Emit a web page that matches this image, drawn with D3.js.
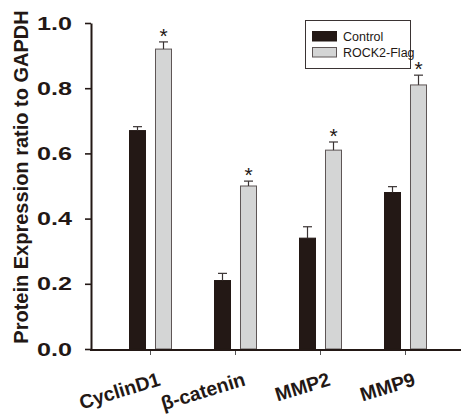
<!DOCTYPE html>
<html>
<head>
<meta charset="utf-8">
<script src="https://cdn.jsdelivr.net/npm/d3@7"></script>
<style>
  body { margin: 0; background: #fff; }
  svg { display: block; font-family: "Liberation Sans", Arial, sans-serif; }
</style>
</head>
<body>
<div id="chart"></div>
<script>
const width = 461;
const height = 415;

// data
const categories = ["CyclinD1", "β-catenin", "MMP2", "MMP9"];
const series = ["Control", "ROCK2-Flag"];
const controlValues = [0.67, 0.21, 0.34, 0.48];
const controlErrors = [0.012, 0.022, 0.035, 0.018];
const rockValues = [0.92, 0.50, 0.61, 0.81];
const rockErrors = [0.022, 0.015, 0.025, 0.03];
const significant = [true, true, true, true];
const yTicks = [0.0, 0.2, 0.4, 0.6, 0.8, 1.0];

const ink = "#231815";
const lightFill = "#d4d5d5";
const lightStroke = "#5e5656";

const svg = d3.select("#chart").append("svg")
    .attr("width", width)
    .attr("height", height);

// scales
const y = d3.scaleLinear().domain([0, 1]).range([349, 23]);
const x = d3.scaleBand().domain(categories).range([108, 448]).padding(0);
const xInner = d3.scaleBand().domain(series).range([-21, 21]).paddingInner(0.3846);

const rows = [];
categories.forEach((c, i) => {
    rows.push({cat: c, s: series[0], v: controlValues[i], e: controlErrors[i], star: false});
    rows.push({cat: c, s: series[1], v: rockValues[i], e: rockErrors[i], star: significant[i]});
});
const cx = c => x(c) + x.bandwidth() / 2;

// bars
svg.append("g").selectAll("rect")
    .data(rows)
    .join("rect")
    .attr("x", d => cx(d.cat) + xInner(d.s))
    .attr("y", d => y(d.v))
    .attr("width", xInner.bandwidth())
    .attr("height", d => y(0) - y(d.v))
    .attr("fill", d => d.s === series[0] ? ink : lightFill)
    .attr("stroke", d => d.s === series[0] ? ink : lightStroke)
    .attr("stroke-width", 1);

// error bars (upper only)
const err = svg.append("g").attr("stroke", "#3a3333").attr("stroke-width", 1.2);
rows.forEach(d => {
    const mx = cx(d.cat) + xInner(d.s) + xInner.bandwidth() / 2;
    err.append("line")
        .attr("x1", mx).attr("x2", mx)
        .attr("y1", y(d.v)).attr("y2", y(d.v + d.e));
    err.append("line")
        .attr("x1", mx - 4.5).attr("x2", mx + 4.5)
        .attr("y1", y(d.v + d.e)).attr("y2", y(d.v + d.e));
});

// asterisks
svg.append("g").selectAll("text")
    .data(rows.filter(d => d.star))
    .join("text")
    .attr("x", d => cx(d.cat) + xInner(d.s) + xInner.bandwidth() / 2)
    .attr("y", d => y(d.v + d.e) + 1)
    .attr("text-anchor", "middle")
    .attr("font-size", 21)
    .attr("fill", ink)
    .text("*");

// y axis
const yAxis = svg.append("g")
    .attr("transform", "translate(91,0)")
    .call(d3.axisLeft(y).tickValues(yTicks).tickFormat(d3.format(".1f")).tickSize(6).tickSizeOuter(0).tickPadding(13));
yAxis.select(".domain").attr("stroke", ink).attr("stroke-width", 2);
yAxis.selectAll(".tick line").attr("stroke", ink).attr("stroke-width", 1.6);
yAxis.selectAll(".tick text")
    .attr("fill", ink)
    .attr("font-size", 19)
    .attr("font-weight", "bold")
    .attr("textLength", 35)
    .attr("lengthAdjust", "spacingAndGlyphs")
    .attr("font-family", "'Liberation Sans', Arial, sans-serif");

// x axis
const xAxis = svg.append("g")
    .attr("transform", "translate(0,350)")
    .call(d3.axisBottom(x).tickSize(5).tickSizeOuter(0).tickPadding(0));
xAxis.select(".domain").remove();
xAxis.selectAll(".tick line").attr("stroke", "#555").attr("stroke-width", 1);
xAxis.selectAll(".tick text")
    .attr("fill", ink)
    .attr("font-size", 19.5)
    .attr("font-weight", "bold")
    .attr("font-family", "'Liberation Sans', Arial, sans-serif")
    .attr("text-anchor", "end")
    .attr("dy", 0)
    .attr("y", 0)
    .attr("transform", "translate(11,35) rotate(-17)");
svg.append("line")
    .attr("x1", 90).attr("x2", width)
    .attr("y1", 350).attr("y2", 350)
    .attr("stroke", ink)
    .attr("stroke-width", 2);

// y title
svg.append("text")
    .attr("transform", "translate(28,177) rotate(-90)")
    .attr("text-anchor", "middle")
    .attr("font-size", 20)
    .attr("font-weight", "bold")
    .attr("fill", ink)
    .text("Protein Expression ratio to GAPDH");

// legend
const legend = svg.append("g");
legend.append("rect")
    .attr("x", 305.5).attr("y", 20.5)
    .attr("width", 105).attr("height", 48)
    .attr("fill", "#fff")
    .attr("stroke", "#3a3333")
    .attr("stroke-width", 1);
series.forEach((s, i) => {
    legend.append("rect")
        .attr("x", 312.5).attr("y", 31.5 + i * 16)
        .attr("width", 24).attr("height", 9.5)
        .attr("fill", i === 0 ? ink : lightFill)
        .attr("stroke", i === 0 ? ink : lightStroke)
        .attr("stroke-width", 1);
    legend.append("text")
        .attr("x", 343).attr("y", 40.5 + i * 16.5)
        .attr("font-size", 12.5)
        .attr("fill", ink)
        .text(s);
});
</script>
</body>
</html>
